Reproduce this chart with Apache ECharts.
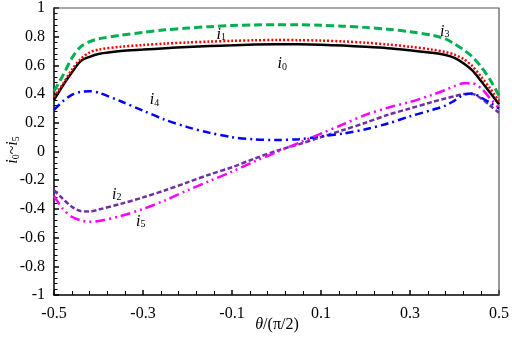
<!DOCTYPE html>
<html><head><meta charset="utf-8">
<script src="https://cdn.jsdelivr.net/npm/echarts@6/dist/echarts.min.js"></script>
<style>html,body{margin:0;padding:0;background:#fff}#c{width:512px;height:341px}</style>
</head><body><div id="c"></div>
<script>
const thetas = [-0.5,-0.48,-0.46,-0.44,-0.42,-0.4,-0.35,-0.3,-0.25,-0.2,-0.15,-0.1,-0.05,0,0.05,0.1,0.15,0.2,0.25,0.3,0.35,0.38,0.4,0.42,0.44,0.46,0.48,0.5];
const i0 = [0.36,0.46,0.55,0.63,0.66,0.68,0.70,0.71,0.72,0.728,0.735,0.74,0.746,0.748,0.747,0.744,0.738,0.73,0.72,0.705,0.688,0.672,0.652,0.615,0.565,0.49,0.41,0.33];
const i1 = [0.38,0.47,0.57,0.645,0.69,0.71,0.73,0.742,0.752,0.76,0.766,0.771,0.775,0.777,0.776,0.773,0.767,0.758,0.746,0.73,0.71,0.693,0.675,0.645,0.595,0.52,0.44,0.35];
const i2 = [-0.27,-0.33,-0.385,-0.415,-0.418,-0.405,-0.365,-0.32,-0.27,-0.215,-0.16,-0.11,-0.05,0.005,0.05,0.10,0.15,0.20,0.255,0.30,0.345,0.37,0.385,0.40,0.40,0.37,0.32,0.27];
const i3 = [0.42,0.53,0.65,0.73,0.765,0.785,0.81,0.83,0.848,0.86,0.87,0.878,0.882,0.884,0.883,0.88,0.873,0.865,0.852,0.835,0.81,0.785,0.75,0.71,0.66,0.59,0.50,0.39];
const i4 = [0.29,0.35,0.395,0.415,0.42,0.41,0.35,0.285,0.22,0.17,0.13,0.10,0.085,0.08,0.086,0.105,0.125,0.155,0.195,0.245,0.29,0.32,0.355,0.395,0.405,0.375,0.34,0.30];
const i5 = [-0.31,-0.40,-0.455,-0.48,-0.49,-0.485,-0.45,-0.40,-0.34,-0.27,-0.205,-0.14,-0.07,-0.005,0.06,0.125,0.19,0.255,0.305,0.345,0.395,0.43,0.455,0.475,0.475,0.44,0.37,0.30];
const seriesNames = ['i0','i1','i2','i3','i4','i5'];

const FONT = '"Liberation Serif","Times New Roman",serif';
const pair = ys => thetas.map((t,k)=>[t, ys[k]]);

const styles = {
  i0:{color:'#000000', width:2.5, type:'solid'},
  i1:{color:'#ff0000', width:2.5, type:[2,2]},
  i2:{color:'#7030a0', width:2.5, type:[5,2.5]},
  i3:{color:'#00b050', width:3, type:[8,4]},
  i4:{color:'#0000ff', width:2.5, type:[8,4,2,4]},
  i5:{color:'#ff00ff', width:2.5, type:[10,4,2,4,2,4]}
};
const values = {i0,i1,i2,i3,i4,i5};

const chart = echarts.init(document.getElementById('c'));
const option = {
  animation:false,
  grid:{left:54,right:11.5,top:6.5,bottom:46},
  xAxis:{type:'value',min:-0.5,max:0.5,interval:0.2,
     axisLine:{show:true,onZero:false,lineStyle:{color:'#000',width:1.5}},
     axisTick:{show:true,inside:true,length:5,lineStyle:{color:'#000',width:1.5}},
     minorTick:{show:true,splitNumber:5,length:4},
     splitLine:{show:false},
     axisLabel:{fontFamily:FONT,fontSize:16,margin:11,color:'#000',
       formatter:v=>(Math.round(v*10)/10).toFixed(1)}},
  yAxis:{type:'value',min:-1,max:1,interval:0.2,
     axisLine:{show:true,onZero:false,lineStyle:{color:'#000',width:1.5}},
     axisTick:{show:true,inside:true,length:5,lineStyle:{color:'#000',width:1.5}},
     minorTick:{show:true,splitNumber:5,length:3.5},
     splitLine:{show:false},
     axisLabel:{fontFamily:FONT,fontSize:16,margin:9,color:'#000',
       formatter:v=>String(Math.round(v*10)/10)}},
  series: seriesNames.map(n=>({
    name:n,type:'line',data:pair(values[n]),smooth:0.3,showSymbol:false,symbol:'none',
    lineStyle:{color:styles[n].color,width:styles[n].width,type:styles[n].type}
  }))
};
chart.setOption(option);

// series label annotations: [subscript, theta, value, colour]
const labelAnchors = [
  ['1',-0.124,0.822,'#ff0000'],
  ['3',0.378,0.843,'#00b050'],
  ['0',0.013,0.615,'#222222'],
  ['4',-0.274,0.365,'#0000ff'],
  ['2',-0.359,-0.293,'#9b30a0'],
  ['5',-0.305,-0.48,'#ff00ff']
];
const rich = (col)=>({
  i:{fontFamily:FONT,fontStyle:'italic',fontSize:16,color:col,lineHeight:18,verticalAlign:'bottom'},
  s:{fontFamily:FONT,fontSize:10,color:col,lineHeight:18,verticalAlign:'bottom',padding:[6,0,0,0]},
  n:{fontFamily:FONT,fontSize:16,color:col,lineHeight:18,verticalAlign:'bottom'},
  t:{fontFamily:FONT,fontStyle:'italic',fontSize:16,color:col,lineHeight:18,verticalAlign:'bottom'}
});
const px = (x,y)=>chart.convertToPixel({xAxisIndex:0,yAxisIndex:0},[x,y]);
const graphics = labelAnchors.map(([d,x,y,col])=>{
  const p = px(x,y);
  return {type:'text',x:p[0],y:p[1],style:{text:'{i|i}{s|'+d+'}',rich:rich(col),align:'center',verticalAlign:'middle'},z:10};
});
// plot frame (top and right edges)
const tl = px(-0.5,1), tr = px(0.5,1), br = px(0.5,-1);
graphics.push({type:'polyline',shape:{points:[tl,tr,br]},style:{stroke:'#555',lineWidth:1.2,fill:null},z:1});
graphics.push({type:'text',x:277,y:324,style:{text:'{t|θ}{n|/(π/2)}',rich:rich('#000'),align:'center',verticalAlign:'middle'}});
graphics.push({type:'text',x:12,y:150,rotation:Math.PI/2,style:{text:'{i|i}{s|0}{n|~}{i|i}{s|5}',rich:rich('#000'),align:'center',verticalAlign:'middle'}});
chart.setOption({graphic:graphics});
</script></body></html>
